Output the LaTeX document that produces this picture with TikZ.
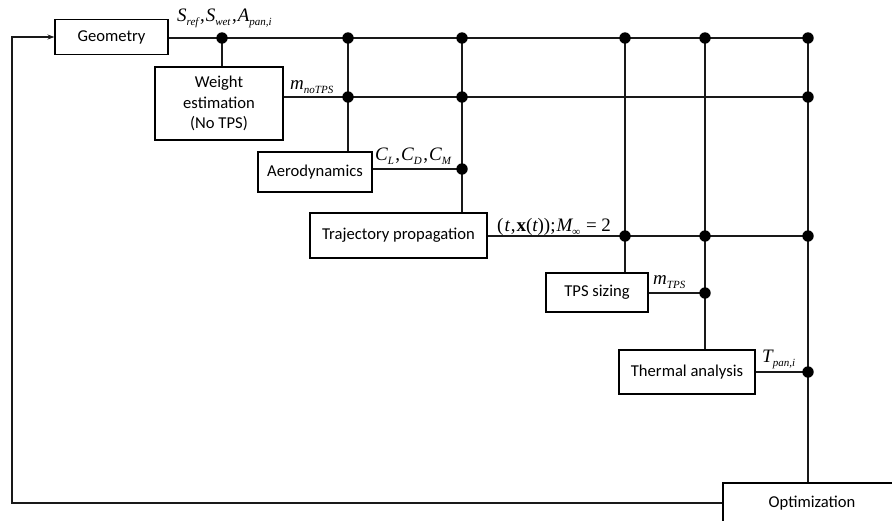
\documentclass[tikz,border=0pt]{standalone}
\usepackage{fontspec}
\setmainfont{Carlito}
\newfontfamily\tms{Liberation Serif}
\usetikzlibrary{arrows.meta,calc}
\newcommand{\vsub}[2]{{\tms\itshape #1}\raisebox{-0.45ex}{\tms\itshape\fontsize{11}{11}\selectfont #2}}
\newcommand{\cm}{\kern1.5pt{\tms,}\kern1pt}
\begin{document}
\begin{tikzpicture}[x=1pt,y=-1pt,
  box/.style={draw, line width=1.1pt, font=\fontsize{16.6}{20.5}\selectfont, align=center, inner sep=0pt},
  wire/.style={line width=1.2pt, draw=black!90},
  lbl/.style={font=\fontsize{19}{21}\selectfont, inner sep=0pt, anchor=base west},
  jdot/.style={fill=black}]
\useasboundingbox (0,0) rectangle (892,520);
% boxes
\node[box, minimum width=113pt, minimum height=35pt] (Geometry) at (111.5,37) {Geometry};
\node[box, minimum width=128pt, minimum height=73pt] (Weight) at (219,103.5) {Weight\\estimation\\(No TPS)};
\node[box, minimum width=114pt, minimum height=40pt] (Aero) at (315,172) {Aerodynamics};
\node[box, minimum width=177pt, minimum height=45pt] (Traj) at (398.5,235.5) {Trajectory propagation};
\node[box, minimum width=102pt, minimum height=39pt] (TPS) at (597,292.5) {TPS sizing};
\node[box, minimum width=136pt, minimum height=44pt] (Thermal) at (687,372) {Thermal analysis};
\node[box, minimum width=178pt, minimum height=40pt] (Opt) at (812,503) {Optimization};
% junctions
\coordinate (d11) at (222,38);
\coordinate (d12) at (348,38);
\coordinate (d13) at (462,38);
\coordinate (d14) at (625,38);
\coordinate (d15) at (705,38);
\coordinate (d16) at (808,38);
\coordinate (d22) at (348,97);
\coordinate (d23) at (462,97);
\coordinate (d26) at (808,97);
\coordinate (d33) at (462,169);
\coordinate (d44) at (625,236);
\coordinate (d45) at (705,236);
\coordinate (d46) at (808,236);
\coordinate (d55) at (705,293);
\coordinate (d66) at (808,372);
\coordinate (fbB) at (12,503);
\coordinate (fbT) at (12,37);
% wires
\draw[wire] (Geometry.east |- d11) -- (d11) -- (d12) -- (d13) -- (d14) -- (d15) -- (d16);
\draw[wire] (d11) -- (d11 |- Weight.north);
\draw[wire] (Weight.east |- d22) -- (d22) -- (d23) -- (d26);
\draw[wire] (d12) -- (d22) -- (d22 |- Aero.north);
\draw[wire] (Aero.east |- d33) -- (d33);
\draw[wire] (d13) -- (d23) -- (d33) -- (d33 |- Traj.north);
\draw[wire] (Traj.east |- d44) -- (d44) -- (d45) -- (d46);
\draw[wire] (d14) -- (d44) -- (d44 |- TPS.north);
\draw[wire] (TPS.east |- d55) -- (d55);
\draw[wire] (d15) -- (d45) -- (d55) -- (d55 |- Thermal.north);
\draw[wire] (Thermal.east |- d66) -- (d66);
\draw[wire] (d16) -- (d26) -- (d46) -- (d66) -- (d66 |- Opt.north);
\draw[wire, -{Stealth[length=7pt,width=5pt]}] (Opt.west) -- (fbB) -- (fbT) -- (Geometry.west);
% dots
\foreach \p in {d11,d12,d13,d14,d15,d16,d22,d23,d26,d33,d44,d45,d46,d55,d66}
  \fill[jdot] (\p) circle (5.7pt);
% labels
\node[lbl] (lS) at (177,21) {\vsub{S}{ref}\cm\vsub{S}{wet}\cm\vsub{A}{pan,i}};
\node[lbl] (lm) at (290,89) {\vsub{m}{noTPS}};
\node[lbl] (lC) at (375,160) {\vsub{C}{L}\cm\vsub{C}{D}\cm\vsub{C}{M}};
\node[lbl] (lt) at (497,231) {{\tms(}\kern1pt{\tms\itshape t}\kern1pt{\tms,}\kern1pt{\tms\bfseries x}{\tms(}{\tms\itshape t}{\tms));}\kern1pt\vsub{M}{∞}\kern1pt{\tms\ =\ 2}};
\node[lbl] (lmt) at (653,284) {\vsub{m}{TPS}};
\node[lbl] (lT) at (762,362) {\vsub{T}{pan,i}};
\end{tikzpicture}
\end{document}
